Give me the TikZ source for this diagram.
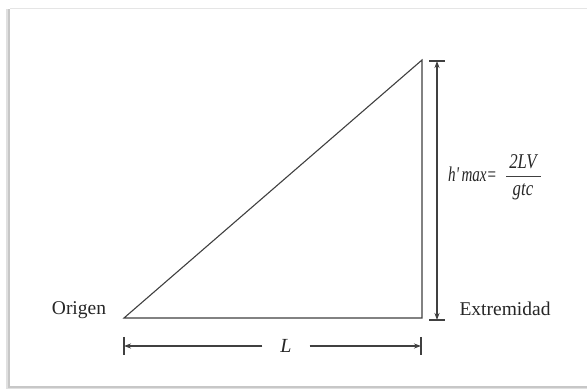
\documentclass[tikz,border=0pt]{standalone}
\usepackage{fontspec}
\usepackage{graphicx}
\setmainfont{Liberation Serif}
\usetikzlibrary{arrows.meta}
\begin{document}
\begin{tikzpicture}[x=1pt,y=-1pt,
  ln/.style={draw=black!75, line width=1.1pt},
  dimtip/.style={ln, -{Stealth[length=7pt,width=5pt]}},
  lbl/.style={font=\fontsize{19.5}{22}\selectfont, inner sep=0pt, text=black!85},
  frm/.style={inner sep=0pt, text=black!85, font=\itshape\fontsize{21}{24}\selectfont}]
\useasboundingbox (0,0) rectangle (587,390);
% frame with soft shadow
\fill[black!12] (6,9) rectangle (587,389);
\fill[black!22] (8,9) rectangle (587,388);
\fill[white] (10,8) rectangle (587,386);
\draw[black!10, line width=0.6pt] (10,8) -- (587,8);
% triangle
\coordinate (O) at (124,318);
\coordinate (T) at (422,60);
\coordinate (B) at (422,318);
\draw[ln, line join=miter] (O) -- (T) -- (B) -- cycle;
% vertical dimension
\coordinate (vt) at (437,61);
\coordinate (vb) at (437,320);
\coordinate (vm) at (437,190);
\coordinate (vtl) at (429,61);
\coordinate (vtr) at (445,61);
\coordinate (vbl) at (429,320);
\coordinate (vbr) at (445,320);
\draw[ln] (vtl) -- (vtr);
\draw[ln] (vbl) -- (vbr);
\draw[dimtip] (vm) -- (vt);
\draw[dimtip] (vm) -- (vb);
% horizontal dimension L
\coordinate (hl) at (124,346);
\coordinate (hr) at (421,346);
\coordinate (hlt) at (124,337);
\coordinate (hlb) at (124,355);
\coordinate (hrt) at (421,337);
\coordinate (hrb) at (421,355);
\draw[ln] (hlt) -- (hlb);
\draw[ln] (hrt) -- (hrb);
\node[lbl, font=\itshape\fontsize{20}{22}\selectfont, minimum width=47pt] (L) at (286,346) {L};
\draw[dimtip] (L.west) -- (hl);
\draw[dimtip] (L.east) -- (hr);
% labels
\node[lbl, anchor=base] (orig) at (79,315) {Origen};
\node[lbl, anchor=base] (ext) at (505,316) {Extremidad};
% formula
\node[frm, anchor=base west] (hmax) at (448,182) {\scalebox{0.72}[1]{h\textquotesingle\,max=}};
\node[frm, anchor=base] (num) at (523,169) {\scalebox{0.8}[1]{2LV}};
\node[frm, anchor=base] (den) at (523,196) {\scalebox{0.8}[1]{gtc}};
\coordinate (barl) at (506,176);
\coordinate (barr) at (541,176);
\draw[black!75, line width=0.8pt] (barl) -- (barr);
\end{tikzpicture}
\end{document}
